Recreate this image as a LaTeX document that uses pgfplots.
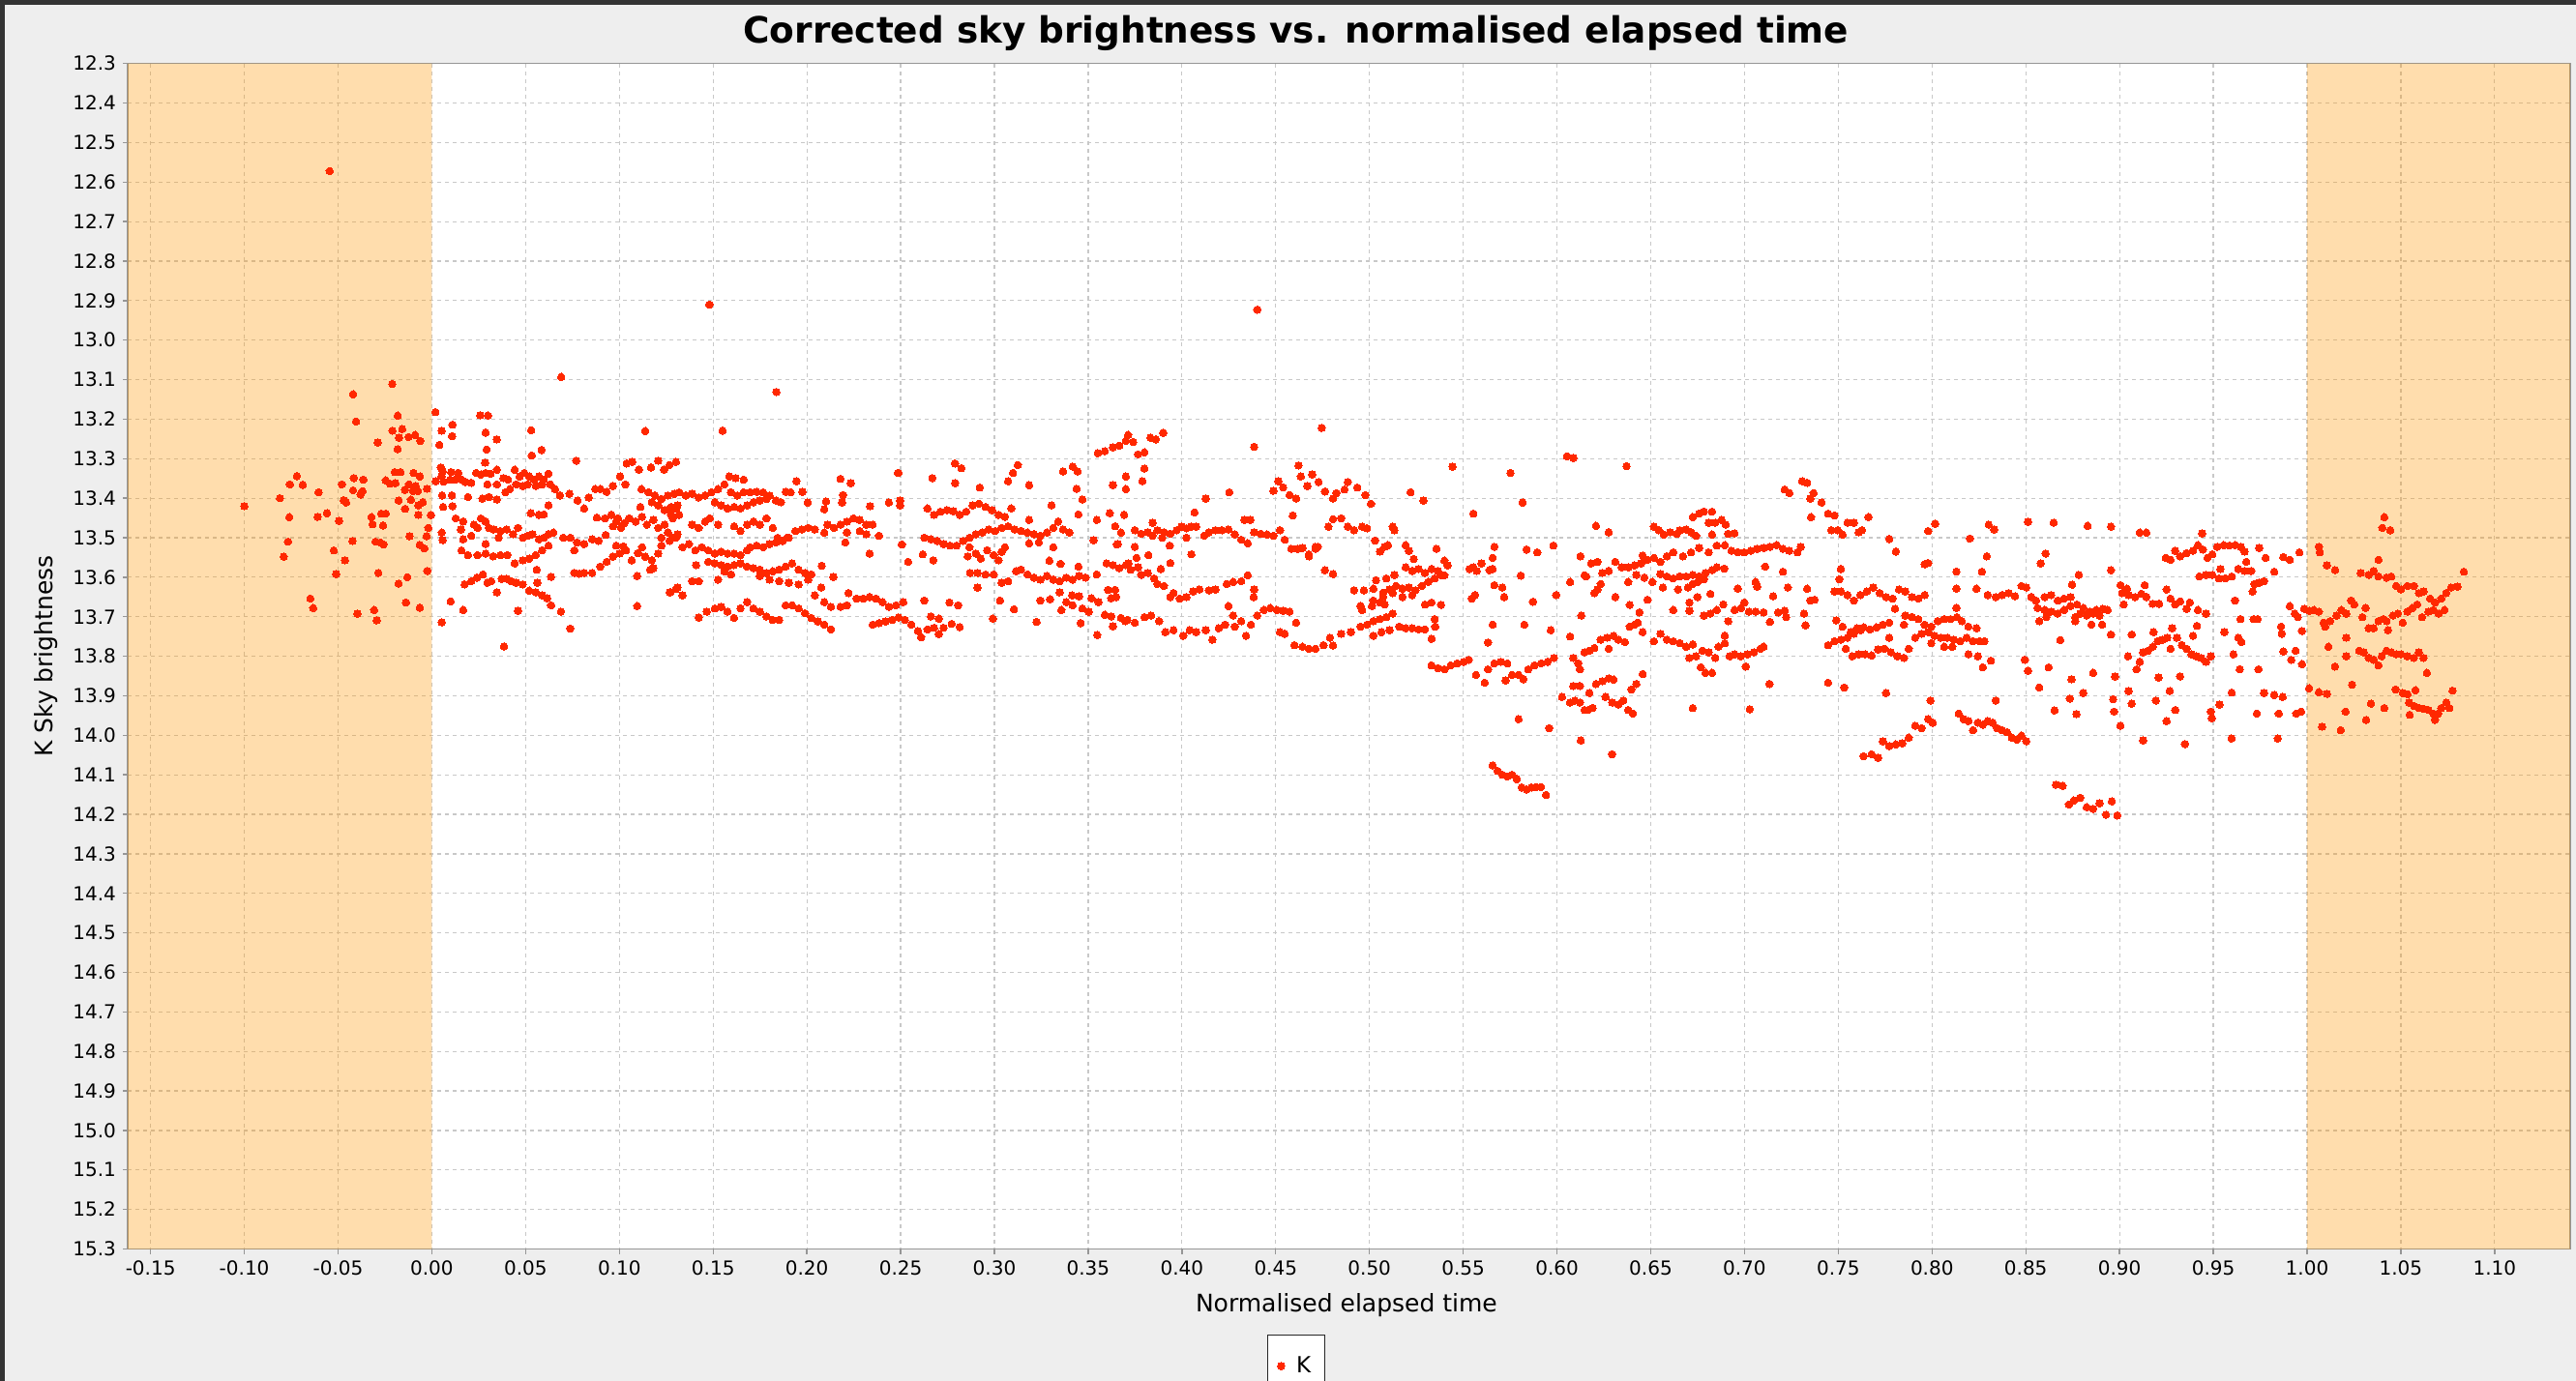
\documentclass[border=0pt]{standalone}
\usepackage{pgfplots}
\pgfplotsset{compat=1.18}
\usepackage{fontspec}
\setmainfont{DejaVu Sans}
\definecolor{ptred}{RGB}{255,40,0}
\definecolor{bandor}{RGB}{255,150,0}
\definecolor{gridc}{RGB}{200,200,200}
\definecolor{bgc}{RGB}{238,238,238}
\definecolor{framec}{RGB}{51,51,51}
\definecolor{axc}{RGB}{150,150,150}
\begin{document}
\begin{tikzpicture}
\useasboundingbox (0,0) rectangle (1331.5pt,714pt);
\clip (0,0) rectangle (1331.5pt,714pt);
\fill[framec] (0,0) rectangle (1331.5pt,714pt);
\fill[bgc] (2.5pt,0) rectangle (1331.5pt,711.5pt);
\begin{axis}[
  at={(66pt,68.25pt)}, anchor=south west,
  scale only axis, width=1262.5pt, height=612.9pt,
  xmin=-0.1622, xmax=1.1403, ymin=12.3, ymax=15.3, y dir=reverse,
  axis background/.style={fill=white},
  xtick={-0.15,-0.10,...,1.11},
  ytick={12.3,12.4,...,15.31},
  /pgf/number format/assume math mode=true,
  xticklabel style={/pgf/number format/.cd, fixed, fixed zerofill, precision=2},
  yticklabel style={/pgf/number format/.cd, fixed, fixed zerofill, precision=1},
  tick label style={font=\fontsize{10}{12}\selectfont},
  grid=major,
  major grid style={draw=gridc, line width=0.6pt, dash pattern=on 2pt off 2pt},
  axis line style={draw=axc, line width=0.7pt},
  tick style={draw=axc, line width=0.7pt},
  tick align=outside, major tick length=2.5pt,
  xtick pos=left, ytick pos=left,
  title={Corrected sky brightness vs. normalised elapsed time},
  title style={at={(axis description cs:0.4784,1.0071)}, anchor=base, font=\fontsize{18.7}{22}\selectfont\bfseries},
  xlabel={Normalised elapsed time},
  xlabel style={at={(axis description cs:0.499,-0.0477)}, anchor=center, font=\fontsize{12.5}{15}\selectfont},
  ylabel={K Sky brightness},
  ylabel style={at={(axis description cs:-0.0333,0.5)}, anchor=center, font=\fontsize{12.5}{15}\selectfont},
  legend style={at={(axis description cs:0.4784,-0.0722)}, anchor=north, draw=black!85, fill=white, line width=0.6pt, font=\fontsize{11.5}{13}\selectfont, inner xsep=5pt, inner ysep=9pt, column sep=4pt},
]
\addplot[ptred, only marks, mark=*, mark size=1.9pt, mark options={draw=ptred, fill=ptred, line width=0pt}] table[row sep=newline] {
x y
-0.1000 13.420
-0.0545 12.572
-0.0810 13.400
-0.0757 13.365
-0.0720 13.344
-0.0688 13.366
-0.0760 13.448
-0.0767 13.510
-0.0790 13.548
-0.0604 13.385
-0.0609 13.447
-0.0559 13.438
-0.0648 13.654
-0.0633 13.678
-0.0495 13.457
-0.0480 13.365
-0.0470 13.405
-0.0457 13.411
-0.0523 13.532
-0.0463 13.557
-0.0510 13.592
-0.0423 13.508
-0.0420 13.137
-0.0404 13.206
-0.0416 13.349
-0.0365 13.353
-0.0420 13.380
-0.0370 13.382
-0.0380 13.391
-0.0397 13.692
-0.0308 13.683
-0.0294 13.709
-0.0322 13.448
-0.0316 13.466
-0.0270 13.439
-0.0246 13.439
-0.0260 13.469
-0.0300 13.510
-0.0275 13.512
-0.0258 13.517
-0.0285 13.589
-0.0289 13.259
-0.0211 13.111
-0.0182 13.191
-0.0210 13.229
-0.0158 13.225
-0.0175 13.247
-0.0124 13.245
-0.0089 13.240
-0.0062 13.255
-0.0182 13.276
-0.0198 13.334
-0.0167 13.334
-0.0098 13.336
-0.0064 13.345
-0.0246 13.355
-0.0224 13.363
-0.0194 13.362
-0.0122 13.365
-0.0086 13.369
-0.0143 13.379
-0.0100 13.382
-0.0074 13.382
-0.0026 13.376
-0.0177 13.406
-0.0112 13.404
-0.0143 13.427
-0.0072 13.418
-0.0048 13.410
-0.0072 13.442
-0.0005 13.443
-0.0019 13.475
-0.0119 13.496
-0.0028 13.496
-0.0065 13.518
-0.0040 13.527
-0.0024 13.584
-0.0131 13.600
-0.0177 13.616
-0.0138 13.664
-0.0064 13.677
0.0048 13.322
0.0058 13.332
0.0103 13.334
0.0141 13.336
0.0052 13.345
0.0064 13.358
0.0021 13.357
0.0098 13.353
0.0124 13.353
0.0158 13.353
0.0179 13.359
0.0210 13.361
0.0236 13.336
0.0261 13.340
0.0287 13.336
0.0313 13.338
0.0347 13.328
0.0296 13.365
0.0347 13.365
0.0392 13.385
0.0416 13.377
0.0442 13.328
0.0468 13.345
0.0493 13.336
0.0519 13.345
0.0545 13.353
0.0571 13.345
0.0597 13.353
0.0622 13.338
0.0631 13.365
0.0657 13.377
0.0683 13.393
0.0734 13.389
0.0450 13.365
0.0485 13.369
0.0511 13.365
0.0554 13.369
0.0588 13.365
0.0406 13.353
0.0382 13.349
0.0055 13.393
0.0107 13.393
0.0193 13.397
0.0270 13.401
0.0304 13.397
0.0347 13.403
0.0060 13.422
0.0110 13.420
0.0622 13.418
0.0019 13.182
0.0052 13.229
0.0040 13.265
0.0110 13.214
0.0108 13.243
0.0258 13.190
0.0299 13.191
0.0287 13.234
0.0292 13.277
0.0346 13.251
0.0530 13.228
0.0533 13.292
0.0585 13.278
0.0690 13.093
0.0770 13.305
0.1138 13.230
0.0284 13.310
0.0777 13.406
0.0812 13.426
0.0837 13.398
0.0872 13.377
0.0898 13.377
0.0932 13.384
0.0966 13.369
0.1004 13.345
0.1032 13.365
0.1039 13.312
0.1069 13.308
0.1104 13.328
0.1169 13.322
0.1207 13.305
0.1238 13.328
0.1267 13.316
0.1302 13.308
0.1118 13.377
0.1155 13.385
0.1190 13.393
0.1224 13.402
0.1259 13.393
0.1293 13.389
0.1173 13.410
0.1207 13.418
0.1241 13.430
0.1276 13.422
0.1310 13.418
0.1112 13.422
0.0127 13.451
0.0167 13.459
0.0155 13.479
0.0224 13.467
0.0244 13.475
0.0261 13.451
0.0287 13.459
0.0304 13.475
0.0330 13.479
0.0365 13.483
0.0399 13.479
0.0433 13.491
0.0459 13.475
0.0485 13.500
0.0511 13.495
0.0536 13.491
0.0571 13.504
0.0597 13.500
0.0622 13.491
0.0648 13.487
0.0700 13.500
0.0739 13.500
0.0528 13.438
0.0571 13.442
0.0597 13.441
0.0774 13.512
0.0812 13.516
0.0855 13.504
0.0889 13.508
0.0927 13.493
0.0880 13.449
0.0923 13.451
0.0958 13.442
0.0992 13.451
0.1026 13.463
0.1052 13.451
0.1087 13.459
0.1121 13.447
0.1147 13.467
0.1181 13.455
0.1207 13.475
0.1241 13.467
0.1276 13.442
0.1302 13.426
0.1259 13.487
0.1224 13.500
0.1284 13.500
0.1310 13.491
0.0983 13.459
0.0966 13.471
0.1009 13.475
0.0167 13.504
0.0210 13.495
0.0287 13.516
0.0356 13.500
0.0158 13.532
0.0193 13.544
0.0244 13.544
0.0287 13.540
0.0327 13.547
0.0365 13.544
0.0402 13.544
0.0442 13.565
0.0485 13.557
0.0519 13.553
0.0554 13.544
0.0588 13.532
0.0622 13.520
0.0760 13.532
0.0812 13.589
0.0855 13.589
0.0898 13.573
0.0932 13.561
0.0966 13.548
0.1001 13.540
0.1035 13.532
0.0983 13.520
0.1021 13.522
0.1100 13.539
0.1138 13.548
0.1173 13.557
0.1207 13.540
0.1224 13.520
0.1181 13.577
0.1164 13.581
0.1121 13.524
0.1066 13.557
0.1095 13.597
0.0760 13.589
0.0786 13.591
0.0175 13.618
0.0210 13.610
0.0241 13.601
0.0272 13.593
0.0296 13.614
0.0316 13.610
0.0347 13.638
0.0373 13.604
0.0399 13.604
0.0425 13.610
0.0450 13.614
0.0485 13.618
0.0519 13.634
0.0554 13.638
0.0588 13.646
0.0614 13.653
0.0636 13.671
0.0688 13.687
0.0559 13.581
0.0562 13.614
0.0636 13.599
0.0100 13.661
0.0167 13.683
0.0053 13.714
0.0459 13.685
0.0385 13.775
0.0738 13.730
0.1095 13.673
0.1272 13.638
0.1310 13.626
0.0053 13.487
0.0058 13.506
0.1480 12.910
0.1837 13.131
0.1550 13.229
0.1319 13.385
0.1354 13.393
0.1388 13.389
0.1423 13.398
0.1457 13.393
0.1491 13.385
0.1526 13.377
0.1560 13.365
0.1586 13.345
0.1620 13.349
0.1663 13.353
0.1595 13.385
0.1629 13.393
0.1663 13.385
0.1698 13.385
0.1732 13.384
0.1767 13.385
0.1801 13.393
0.1835 13.406
0.1861 13.410
0.1887 13.384
0.1913 13.385
0.1509 13.410
0.1543 13.418
0.1577 13.426
0.1612 13.422
0.1646 13.426
0.1681 13.418
0.1715 13.410
0.1749 13.406
0.1784 13.402
0.1944 13.357
0.1976 13.384
0.2004 13.411
0.2102 13.408
0.2093 13.428
0.2179 13.351
0.2234 13.362
0.2193 13.392
0.2188 13.411
0.2337 13.420
0.2437 13.411
0.2489 13.336
0.2497 13.406
0.2497 13.418
0.1268 13.426
0.1285 13.451
0.1319 13.442
0.1388 13.467
0.1423 13.475
0.1457 13.459
0.1483 13.451
0.1526 13.467
0.1612 13.471
0.1646 13.483
0.1681 13.467
0.1715 13.459
0.1749 13.467
0.1784 13.451
0.1818 13.475
0.1844 13.500
0.1895 13.500
0.1938 13.483
0.1973 13.479
0.2007 13.475
0.2042 13.479
0.2093 13.487
0.2110 13.467
0.2145 13.475
0.2179 13.467
0.2214 13.459
0.2248 13.451
0.2282 13.455
0.2317 13.467
0.2351 13.467
0.2214 13.487
0.2282 13.483
0.2317 13.491
0.2385 13.495
0.2205 13.512
0.2506 13.517
0.2643 13.426
0.2678 13.442
0.2712 13.434
0.2747 13.430
0.2781 13.433
0.2815 13.442
0.2850 13.434
0.2884 13.418
0.2918 13.414
0.2953 13.422
0.2987 13.430
0.3022 13.442
0.3056 13.447
0.3090 13.426
0.3185 13.367
0.3073 13.357
0.3099 13.336
0.3125 13.316
0.2790 13.312
0.2824 13.324
0.2790 13.362
0.2669 13.349
0.2485 13.336
0.2922 13.373
0.3305 13.418
0.3366 13.332
0.3417 13.320
0.3443 13.332
0.3438 13.376
0.3469 13.403
0.3448 13.441
0.3546 13.455
0.3615 13.438
0.3692 13.442
0.3632 13.367
0.3701 13.377
0.3701 13.345
0.3551 13.286
0.3589 13.281
0.3632 13.271
0.3666 13.267
0.3701 13.255
0.3713 13.240
0.3644 13.471
0.3675 13.487
0.3658 13.516
0.3185 13.455
0.1268 13.508
0.1302 13.500
0.1337 13.524
0.1371 13.516
0.1405 13.532
0.1440 13.524
0.1474 13.532
0.1509 13.540
0.1543 13.536
0.1577 13.540
0.1612 13.540
0.1646 13.544
0.1681 13.532
0.1474 13.561
0.1509 13.565
0.1543 13.569
0.1577 13.573
0.1612 13.569
0.1646 13.565
0.1681 13.573
0.1715 13.577
0.1749 13.581
0.1784 13.589
0.1818 13.585
0.1852 13.581
0.1887 13.573
0.1921 13.565
0.1956 13.581
0.1990 13.589
0.2024 13.593
0.1698 13.524
0.1732 13.520
0.1767 13.524
0.1801 13.516
0.1835 13.512
0.1870 13.508
0.1904 13.500
0.1560 13.585
0.1595 13.593
0.1526 13.606
0.1749 13.597
0.1801 13.606
0.1852 13.610
0.1904 13.614
0.1956 13.618
0.2007 13.606
0.2079 13.571
0.2141 13.599
0.1409 13.569
0.1388 13.610
0.1423 13.610
0.1302 13.630
0.1268 13.638
0.1337 13.646
0.2076 13.626
0.2334 13.540
0.2870 13.589
0.2910 13.589
0.2953 13.593
0.2996 13.593
0.2910 13.626
0.3039 13.614
0.3073 13.610
0.3116 13.585
0.3142 13.581
0.3176 13.593
0.3211 13.601
0.3245 13.606
0.3280 13.597
0.3314 13.606
0.3348 13.610
0.3383 13.601
0.3417 13.606
0.3451 13.597
0.3486 13.601
0.3448 13.573
0.3546 13.593
0.3598 13.565
0.3632 13.569
0.3666 13.577
0.3701 13.569
0.3727 13.581
0.2867 13.524
0.2901 13.540
0.2927 13.553
0.2961 13.532
0.2996 13.544
0.3022 13.557
0.3039 13.536
0.3056 13.524
0.2626 13.500
0.2661 13.504
0.2695 13.508
0.2729 13.516
0.2764 13.520
0.2798 13.520
0.2833 13.508
0.2867 13.500
0.2901 13.491
0.2936 13.487
0.2970 13.479
0.3004 13.483
0.3039 13.475
0.3073 13.471
0.3108 13.479
0.3142 13.483
0.3176 13.487
0.3211 13.491
0.3245 13.495
0.3280 13.487
0.3314 13.475
0.3340 13.459
0.3366 13.479
0.3400 13.487
0.3237 13.512
0.3314 13.524
0.3293 13.558
0.3352 13.566
0.3185 13.514
0.2540 13.561
0.2618 13.542
0.2674 13.557
0.2858 13.547
0.3529 13.506
0.3654 13.517
0.1423 13.702
0.1466 13.687
0.1509 13.679
0.1543 13.675
0.1577 13.687
0.1612 13.703
0.1646 13.679
0.1681 13.663
0.1715 13.679
0.1749 13.687
0.1784 13.699
0.1818 13.708
0.1852 13.708
0.1887 13.671
0.1921 13.671
0.1956 13.679
0.1990 13.691
0.2024 13.703
0.2059 13.712
0.2093 13.720
0.2128 13.732
0.2042 13.646
0.2093 13.663
0.2128 13.675
0.2179 13.675
0.2214 13.671
0.2222 13.640
0.2265 13.654
0.2300 13.654
0.2334 13.650
0.2368 13.654
0.2403 13.663
0.2437 13.675
0.2475 13.671
0.2514 13.663
0.2351 13.720
0.2385 13.716
0.2420 13.712
0.2454 13.708
0.2489 13.702
0.2523 13.708
0.2557 13.720
0.2592 13.736
0.2609 13.752
0.2643 13.732
0.2678 13.728
0.2704 13.744
0.2729 13.728
0.2772 13.718
0.2815 13.726
0.2626 13.659
0.2661 13.699
0.2704 13.705
0.2760 13.664
0.2807 13.671
0.2992 13.705
0.3030 13.659
0.3104 13.681
0.3225 13.713
0.3245 13.659
0.3297 13.656
0.3357 13.683
0.3383 13.663
0.3417 13.671
0.3469 13.679
0.3460 13.716
0.3503 13.687
0.3555 13.663
0.3548 13.746
0.3589 13.695
0.3623 13.699
0.3632 13.724
0.3649 13.650
0.3675 13.703
0.3709 13.708
0.3606 13.632
0.3644 13.632
0.3451 13.648
0.3414 13.646
0.3517 13.653
0.3348 13.638
0.3623 13.653
0.4402 12.923
0.4745 13.222
0.4385 13.270
0.3740 13.258
0.3766 13.289
0.3800 13.284
0.3832 13.247
0.3861 13.251
0.3900 13.235
0.3800 13.325
0.3789 13.357
0.3749 13.481
0.3783 13.490
0.3818 13.486
0.3844 13.462
0.3869 13.481
0.3904 13.486
0.3938 13.490
0.3972 13.481
0.3998 13.472
0.4024 13.476
0.4050 13.472
0.4076 13.472
0.3844 13.495
0.3895 13.500
0.4024 13.500
0.4119 13.495
0.4144 13.486
0.4179 13.481
0.4213 13.481
0.4248 13.479
0.4282 13.492
0.4316 13.505
0.4351 13.514
0.4385 13.486
0.4420 13.490
0.4454 13.492
0.4488 13.495
0.4523 13.481
0.4548 13.505
0.4583 13.528
0.4617 13.528
0.4643 13.526
0.4677 13.547
0.4712 13.523
0.3749 13.523
0.3758 13.551
0.3821 13.544
0.3935 13.520
0.4050 13.542
0.4067 13.436
0.4127 13.401
0.4253 13.385
0.4334 13.455
0.4365 13.455
0.3938 13.564
0.3887 13.579
0.3715 13.565
0.3766 13.575
0.3818 13.589
0.3852 13.603
0.3904 13.622
0.3955 13.640
0.4024 13.650
0.4093 13.631
0.4144 13.633
0.4179 13.631
0.4239 13.617
0.4273 13.612
0.4316 13.610
0.4351 13.595
0.4385 13.631
0.4382 13.650
0.3783 13.594
0.3869 13.617
0.3938 13.650
0.3989 13.654
0.4059 13.636
0.3697 13.711
0.3749 13.715
0.3800 13.701
0.3835 13.697
0.3878 13.711
0.3912 13.739
0.3955 13.734
0.4007 13.748
0.4041 13.734
0.4076 13.739
0.4127 13.734
0.4162 13.758
0.4196 13.729
0.4230 13.720
0.4248 13.673
0.4273 13.697
0.4316 13.711
0.4368 13.720
0.4402 13.697
0.4437 13.683
0.4471 13.678
0.4506 13.683
0.4540 13.685
0.4574 13.687
0.4609 13.715
0.4342 13.748
0.4282 13.725
0.4523 13.739
0.4548 13.743
0.4600 13.772
0.4643 13.776
0.4677 13.781
0.4712 13.781
0.4755 13.772
0.4789 13.753
0.4806 13.773
0.4488 13.381
0.4514 13.357
0.4540 13.373
0.4574 13.392
0.4609 13.401
0.4634 13.345
0.4669 13.369
0.4695 13.340
0.4729 13.359
0.4763 13.383
0.4806 13.401
0.4824 13.387
0.4867 13.378
0.4884 13.359
0.4935 13.373
0.4978 13.392
0.5008 13.414
0.4622 13.317
0.4591 13.444
0.4781 13.472
0.4806 13.453
0.4849 13.451
0.4884 13.472
0.4918 13.481
0.4961 13.472
0.4987 13.476
0.4677 13.542
0.4712 13.528
0.4724 13.523
0.4763 13.582
0.4806 13.592
0.4918 13.633
0.4970 13.633
0.5021 13.629
0.5073 13.639
0.5107 13.631
0.5142 13.622
0.5176 13.629
0.5210 13.626
0.5245 13.633
0.5279 13.622
0.5314 13.612
0.5348 13.603
0.5382 13.595
0.5021 13.659
0.5073 13.650
0.5124 13.640
0.5176 13.650
0.5228 13.645
0.5090 13.603
0.5133 13.594
0.5193 13.575
0.5228 13.584
0.5262 13.579
0.5296 13.589
0.5331 13.579
0.5365 13.584
0.5400 13.595
0.5035 13.608
0.4849 13.743
0.4901 13.739
0.4953 13.725
0.4987 13.720
0.5021 13.711
0.5056 13.706
0.5090 13.701
0.5124 13.692
0.5159 13.725
0.5193 13.729
0.5228 13.729
0.5262 13.732
0.5296 13.732
0.5021 13.748
0.5064 13.739
0.5107 13.734
0.4953 13.673
0.4961 13.683
0.5013 13.673
0.5056 13.664
0.5081 13.669
0.5030 13.507
0.5056 13.535
0.5081 13.523
0.5099 13.519
0.5133 13.481
0.5124 13.472
0.5193 13.519
0.5210 13.533
0.5236 13.554
0.5219 13.385
0.5288 13.406
0.5357 13.528
0.5400 13.558
0.5417 13.570
0.5348 13.706
0.5351 13.725
0.5331 13.756
0.5296 13.669
0.5331 13.664
0.5382 13.670
0.5443 13.320
0.5331 13.823
0.5365 13.830
0.5400 13.833
0.5434 13.823
0.5468 13.818
0.5503 13.814
0.5529 13.809
0.5534 13.579
0.5554 13.575
0.5572 13.584
0.5597 13.565
0.5640 13.582
0.5657 13.579
0.5554 13.439
0.5546 13.654
0.5563 13.645
0.5632 13.765
0.5657 13.720
0.5666 13.620
0.5709 13.626
0.5718 13.650
0.5666 13.523
0.5657 13.551
0.5752 13.336
0.5817 13.411
0.5807 13.596
0.5838 13.530
0.5895 13.537
0.5872 13.662
0.5826 13.720
0.5981 13.520
0.5996 13.645
0.5967 13.734
0.6070 13.612
0.6130 13.697
0.6070 13.750
0.6053 13.294
0.6087 13.298
0.6125 13.547
0.6147 13.595
0.5568 13.847
0.5615 13.867
0.5632 13.833
0.5666 13.818
0.5700 13.814
0.5735 13.818
0.5726 13.861
0.5761 13.847
0.5795 13.847
0.5821 13.858
0.5847 13.833
0.5881 13.823
0.5915 13.818
0.5950 13.814
0.5984 13.804
0.6027 13.903
0.6070 13.917
0.6096 13.912
0.6122 13.917
0.6147 13.936
0.6087 13.875
0.6122 13.875
0.6087 13.804
0.6113 13.818
0.6122 13.833
0.6147 13.790
0.5795 13.959
0.5958 13.982
0.6127 14.013
0.5657 14.076
0.5683 14.090
0.5709 14.100
0.5735 14.104
0.5761 14.100
0.5786 14.111
0.5812 14.132
0.5838 14.137
0.5864 14.132
0.5890 14.131
0.5915 14.131
0.5941 14.151
0.6371 13.319
0.6208 13.470
0.6276 13.486
0.6156 13.598
0.6182 13.565
0.6216 13.561
0.6242 13.589
0.6276 13.584
0.6311 13.561
0.6345 13.575
0.6380 13.575
0.6414 13.570
0.6448 13.565
0.6457 13.545
0.6483 13.556
0.6517 13.551
0.6552 13.561
0.6586 13.547
0.6620 13.537
0.6672 13.547
0.6715 13.537
0.6758 13.526
0.6809 13.537
0.6852 13.520
0.6895 13.519
0.6930 13.533
0.6964 13.537
0.6999 13.537
0.7033 13.533
0.7067 13.528
0.7102 13.526
0.7136 13.523
0.7171 13.519
0.7205 13.528
0.7239 13.533
0.7282 13.537
0.7300 13.523
0.6380 13.612
0.6423 13.594
0.6466 13.601
0.6509 13.612
0.6552 13.592
0.6586 13.598
0.6620 13.603
0.6655 13.598
0.6689 13.598
0.6724 13.594
0.6758 13.598
0.6792 13.589
0.6827 13.582
0.6852 13.575
0.6892 13.578
0.6565 13.626
0.6646 13.631
0.6698 13.626
0.6724 13.617
0.6749 13.612
0.6784 13.605
0.6517 13.472
0.6543 13.481
0.6569 13.492
0.6603 13.486
0.6638 13.490
0.6655 13.481
0.6689 13.479
0.6715 13.486
0.6741 13.495
0.6724 13.448
0.6758 13.439
0.6784 13.434
0.6827 13.434
0.6809 13.462
0.6844 13.462
0.6878 13.455
0.6899 13.467
0.6913 13.490
0.6947 13.489
0.6827 13.492
0.7214 13.378
0.7239 13.387
0.7308 13.357
0.7334 13.361
0.7368 13.387
0.7351 13.401
0.7411 13.411
0.7446 13.439
0.7480 13.444
0.7463 13.481
0.7497 13.481
0.7523 13.492
0.7549 13.462
0.7583 13.462
0.7609 13.486
0.7626 13.481
0.7661 13.448
0.7355 13.448
0.7772 13.503
0.7807 13.535
0.7979 13.483
0.8017 13.465
0.8202 13.502
0.8302 13.467
0.8331 13.479
0.8512 13.460
0.7961 13.567
0.7979 13.564
0.8292 13.547
0.8266 13.586
0.8130 13.586
0.8130 13.629
0.8237 13.629
0.8130 13.678
0.7961 13.645
0.8580 13.565
0.6199 13.640
0.6216 13.631
0.6233 13.617
0.6311 13.650
0.6388 13.670
0.6440 13.689
0.6483 13.657
0.6620 13.683
0.6706 13.685
0.6749 13.650
0.6784 13.697
0.6818 13.692
0.6852 13.683
0.6887 13.669
0.6818 13.642
0.6706 13.664
0.6913 13.711
0.6947 13.683
0.6981 13.678
0.6999 13.664
0.7024 13.687
0.7059 13.687
0.7102 13.689
0.6964 13.629
0.7059 13.612
0.7067 13.624
0.7110 13.573
0.7153 13.648
0.7136 13.713
0.7179 13.689
0.7214 13.685
0.7222 13.701
0.7205 13.586
0.7231 13.626
0.7317 13.692
0.7325 13.722
0.7334 13.629
0.7351 13.659
0.7373 13.657
0.6173 13.786
0.6199 13.779
0.6233 13.758
0.6268 13.753
0.6302 13.748
0.6328 13.758
0.6362 13.764
0.6276 13.781
0.6388 13.725
0.6414 13.720
0.6431 13.715
0.6457 13.739
0.6173 13.893
0.6208 13.870
0.6242 13.863
0.6276 13.856
0.6302 13.859
0.6165 13.936
0.6190 13.931
0.6259 13.903
0.6294 13.917
0.6328 13.922
0.6354 13.912
0.6380 13.936
0.6405 13.945
0.6397 13.884
0.6423 13.870
0.6457 13.845
0.6294 14.048
0.6517 13.762
0.6552 13.743
0.6586 13.758
0.6620 13.762
0.6655 13.767
0.6689 13.776
0.6724 13.770
0.6706 13.804
0.6741 13.800
0.6775 13.786
0.6809 13.790
0.6844 13.804
0.6861 13.776
0.6895 13.767
0.6895 13.748
0.6921 13.800
0.6947 13.795
0.6981 13.800
0.7016 13.795
0.7050 13.790
0.7085 13.781
0.7102 13.776
0.6767 13.828
0.6792 13.842
0.6827 13.842
0.7007 13.826
0.7133 13.870
0.6724 13.931
0.7028 13.934
0.7480 13.636
0.7514 13.636
0.7549 13.645
0.7583 13.659
0.7618 13.645
0.7652 13.636
0.7686 13.626
0.7721 13.640
0.7755 13.650
0.7790 13.654
0.7824 13.631
0.7858 13.636
0.7893 13.650
0.7927 13.654
0.7514 13.579
0.7506 13.605
0.7489 13.709
0.7523 13.725
0.7566 13.739
0.7600 13.729
0.7635 13.727
0.7669 13.732
0.7704 13.727
0.7738 13.720
0.7772 13.715
0.7446 13.772
0.7480 13.762
0.7514 13.758
0.7549 13.753
0.7583 13.743
0.7618 13.734
0.7540 13.781
0.7575 13.800
0.7609 13.795
0.7643 13.795
0.7678 13.798
0.7712 13.783
0.7747 13.781
0.7781 13.790
0.7815 13.800
0.7850 13.804
0.7772 13.753
0.7446 13.867
0.7532 13.879
0.7755 13.893
0.7803 13.680
0.7858 13.697
0.7893 13.701
0.7927 13.706
0.7961 13.720
0.7996 13.725
0.8030 13.711
0.8065 13.706
0.8099 13.706
0.8133 13.701
0.8159 13.711
0.8194 13.725
0.8237 13.729
0.7910 13.753
0.7944 13.743
0.7979 13.739
0.8013 13.748
0.8047 13.753
0.8082 13.753
0.8116 13.758
0.8151 13.762
0.8185 13.753
0.8219 13.762
0.8254 13.762
0.8280 13.762
0.7996 13.767
0.8065 13.776
0.8108 13.776
0.8194 13.795
0.8245 13.800
0.8271 13.828
0.8314 13.811
0.7876 13.781
0.7850 13.720
0.8297 13.645
0.8340 13.650
0.8374 13.645
0.8409 13.640
0.8443 13.648
0.8477 13.622
0.8503 13.626
0.8529 13.650
0.8555 13.659
0.8563 13.678
0.8572 13.711
0.7992 13.912
0.8340 13.912
0.8495 13.809
0.8512 13.837
0.8572 13.879
0.8142 13.945
0.8168 13.959
0.8194 13.964
0.8219 13.987
0.8245 13.968
0.8271 13.973
0.8297 13.964
0.8323 13.968
0.8348 13.982
0.8374 13.987
0.8400 13.992
0.8426 14.006
0.8452 14.011
0.8477 14.001
0.8503 14.015
0.7635 14.053
0.7678 14.048
0.7712 14.057
0.7738 14.015
0.7772 14.027
0.7807 14.023
0.7841 14.020
0.7876 14.006
0.7910 13.976
0.7944 13.982
0.7979 13.959
0.8004 13.968
0.8649 13.462
0.8830 13.470
0.8954 13.472
0.9108 13.487
0.9143 13.487
0.9440 13.489
0.8606 13.540
0.8747 13.619
0.8782 13.594
0.8954 13.582
0.8601 13.650
0.8635 13.645
0.8670 13.659
0.8704 13.654
0.8739 13.650
0.8773 13.669
0.8807 13.678
0.8842 13.687
0.8876 13.683
0.8911 13.680
0.8936 13.683
0.8601 13.683
0.8635 13.687
0.8670 13.692
0.8704 13.683
0.8739 13.673
0.8764 13.701
0.8790 13.692
0.8825 13.697
0.8859 13.692
0.8893 13.697
0.8610 13.701
0.8764 13.711
0.8850 13.720
0.8907 13.720
0.8684 13.759
0.8954 13.745
0.8622 13.828
0.8744 13.858
0.8859 13.842
0.8807 13.893
0.8735 13.907
0.8653 13.937
0.8770 13.946
0.8976 13.851
0.8966 13.909
0.8971 13.940
0.9005 13.976
0.8661 14.125
0.8696 14.128
0.8730 14.175
0.8756 14.165
0.8790 14.158
0.8825 14.182
0.8859 14.186
0.8893 14.172
0.8928 14.201
0.8959 14.167
0.8988 14.203
0.9005 13.620
0.9040 13.629
0.9014 13.640
0.9048 13.645
0.9083 13.650
0.9117 13.642
0.9134 13.620
0.9143 13.650
0.9177 13.667
0.9211 13.667
0.9251 13.631
0.9272 13.654
0.9297 13.669
0.9323 13.661
0.9358 13.680
0.9375 13.664
0.9418 13.683
0.9461 13.692
0.9022 13.669
0.9246 13.551
0.9272 13.556
0.9297 13.533
0.9323 13.547
0.9358 13.539
0.9392 13.533
0.9418 13.519
0.9444 13.530
0.9469 13.551
0.9495 13.542
0.9521 13.523
0.9555 13.519
0.9585 13.520
0.9616 13.519
0.9646 13.523
0.9667 13.535
0.9426 13.598
0.9461 13.594
0.9495 13.594
0.9530 13.603
0.9564 13.603
0.9598 13.598
0.9633 13.579
0.9667 13.584
0.9702 13.584
0.9719 13.617
0.9745 13.614
0.9770 13.610
0.9676 13.561
0.9538 13.579
0.9616 13.659
0.9710 13.636
0.9745 13.526
0.9779 13.551
0.9825 13.586
0.9873 13.549
0.9908 13.556
0.9959 13.537
0.9045 13.800
0.9091 13.833
0.9108 13.814
0.9126 13.790
0.9151 13.786
0.9177 13.776
0.9203 13.762
0.9229 13.758
0.9254 13.753
0.9280 13.729
0.9306 13.753
0.9332 13.772
0.9358 13.781
0.9383 13.795
0.9409 13.800
0.9435 13.804
0.9461 13.814
0.9487 13.800
0.9181 13.739
0.9272 13.781
0.9392 13.748
0.9413 13.723
0.9065 13.745
0.9048 13.888
0.9065 13.920
0.9126 14.013
0.9194 13.912
0.9208 13.854
0.9268 13.888
0.9297 13.936
0.9251 13.964
0.9323 13.851
0.9349 14.022
0.9487 13.940
0.9492 13.957
0.9533 13.922
0.9559 13.739
0.9607 13.795
0.9598 13.892
0.9597 14.008
0.9641 13.833
0.9633 13.753
0.9650 13.764
0.9645 13.706
0.9715 13.706
0.9736 13.706
0.9741 13.833
0.9732 13.945
0.9770 13.893
0.9825 13.898
0.9870 13.903
0.9849 13.945
0.9844 14.008
0.9861 13.725
0.9865 13.743
0.9873 13.788
0.9916 13.809
0.9939 13.786
0.9973 13.736
0.9973 13.820
0.9942 13.945
0.9968 13.940
0.9908 13.673
0.9934 13.692
0.9951 13.701
0.9985 13.680
1.0011 13.685
1.0037 13.683
1.0063 13.687
1.0097 13.725
1.0088 13.715
1.0123 13.711
1.0157 13.697
1.0183 13.683
1.0209 13.692
1.0235 13.659
1.0252 13.669
1.0295 13.701
1.0312 13.678
1.0329 13.729
1.0355 13.729
1.0381 13.711
1.0406 13.706
1.0424 13.711
1.0432 13.734
1.0458 13.697
1.0484 13.692
1.0510 13.715
1.0535 13.687
1.0561 13.678
1.0587 13.669
1.0613 13.701
1.0647 13.687
1.0673 13.683
1.0702 13.692
1.0733 13.683
1.0475 13.622
1.0501 13.631
1.0535 13.622
1.0570 13.622
1.0596 13.640
1.0621 13.636
1.0656 13.654
1.0682 13.664
1.0716 13.654
1.0742 13.640
1.0768 13.626
1.0802 13.624
1.0836 13.586
1.0286 13.589
1.0329 13.594
1.0355 13.584
1.0381 13.598
1.0424 13.601
1.0449 13.598
1.0381 13.556
1.0412 13.448
1.0401 13.475
1.0444 13.481
1.0063 13.523
1.0068 13.537
1.0106 13.570
1.0149 13.582
1.0114 13.776
1.0149 13.826
1.0209 13.753
1.0209 13.800
1.0240 13.872
1.0278 13.786
1.0303 13.790
1.0329 13.804
1.0355 13.809
1.0381 13.823
1.0398 13.800
1.0424 13.786
1.0449 13.790
1.0475 13.795
1.0501 13.795
1.0535 13.800
1.0570 13.804
1.0596 13.790
1.0621 13.804
1.0639 13.842
1.0011 13.881
1.0063 13.891
1.0106 13.895
1.0205 13.940
1.0080 13.978
1.0180 13.987
1.0315 13.961
1.0341 13.920
1.0412 13.931
1.0472 13.884
1.0510 13.893
1.0535 13.896
1.0578 13.886
1.0544 13.917
1.0570 13.926
1.0596 13.931
1.0621 13.933
1.0647 13.936
1.0673 13.945
1.0699 13.945
1.0682 13.961
1.0716 13.931
1.0742 13.917
1.0759 13.931
1.0776 13.887
1.0547 13.948
};
\addlegendentry{K}
\addplot[draw=none, fill=bandor, fill opacity=0.32, forget plot] coordinates {(-0.17,12.3) (0,12.3) (0,15.3) (-0.17,15.3) (-0.17,12.3)};
\addplot[draw=none, fill=bandor, fill opacity=0.32, forget plot] coordinates {(1,12.3) (1.15,12.3) (1.15,15.3) (1,15.3) (1,12.3)};
\end{axis}
\end{tikzpicture}
\end{document}
